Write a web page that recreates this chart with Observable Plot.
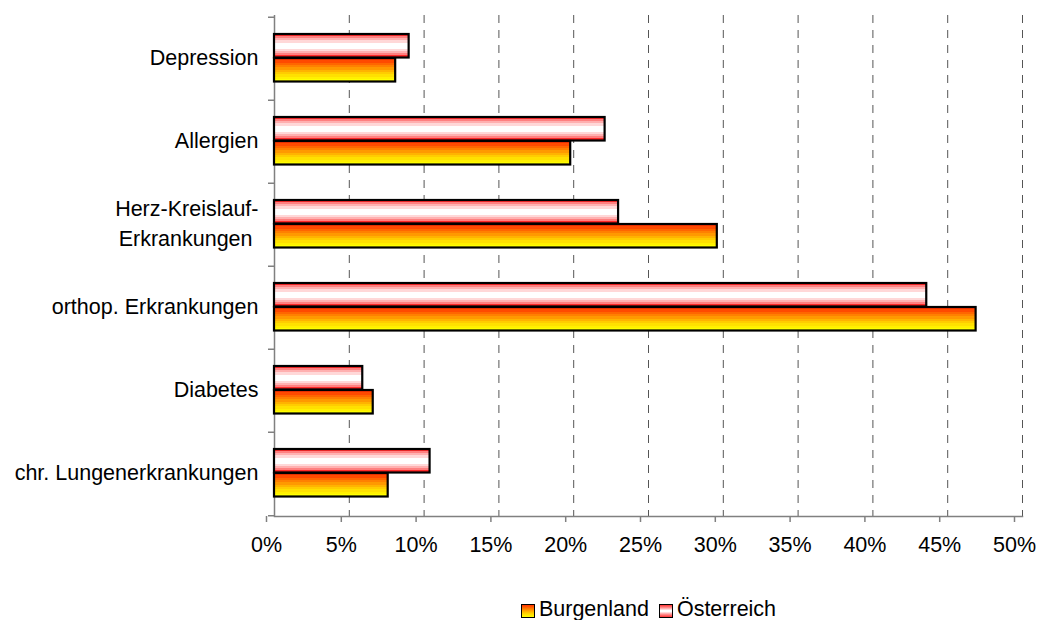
<!DOCTYPE html>
<html>
<head>
<meta charset="utf-8">
<script src="https://cdn.jsdelivr.net/npm/d3@7"></script>
<script src="https://cdn.jsdelivr.net/npm/@observablehq/plot@0.6"></script>
<style>
  body { margin: 0; background: #fff; font-family: "Liberation Sans", Arial, sans-serif; }
  #legend { display: flex; justify-content: center; align-items: center; padding-left: 260px; margin-top: 18px; font-size: 21.5px; color: #000; height: 22px; }
  .sw { width: 12px; height: 12px; border: 1px solid #000; margin-right: 4px; display: inline-block; margin-top: 4px; }
  .item { display: flex; align-items: center; margin: 0 5px; }
</style>
</head>
<body>
<div id="chart"></div>
<div id="legend"></div>
<script>
const categories = ["Depression", "Allergien", "Herz-Kreislauf-Erkrankungen", "orthop. Erkrankungen", "Diabetes", "chr. Lungenerkrankungen"];
const categoryLabels = ["Depression", "Allergien", "Herz-Kreislauf-\nErkrankungen\u00a0", "orthop. Erkrankungen", "Diabetes", "chr. Lungenerkrankungen"];
const seriesNames = ["Burgenland", "Österreich"];
const burgenland = [8.1, 19.8, 29.6, 46.9, 6.6, 7.6];
const oesterreich = [9.0, 22.1, 23.0, 43.6, 5.9, 10.4];
const xTicks = [0, 5, 10, 15, 20, 25, 30, 35, 40, 45, 50];

const dataB = categories.map((c, i) => ({category: c, value: burgenland[i]}));
const dataO = categories.map((c, i) => ({category: c, value: oesterreich[i]}));
const labelOf = new Map(categories.map((c, i) => [c, categoryLabels[i]]));

const height = 580, marginTop = 15, marginBottom = 64;
const bw = (height - marginTop - marginBottom) / categories.length;
const fs = 21.5;

const defs = () => {
  const g = d3.create("svg:defs");
  const gb = g.append("linearGradient").attr("id", "gradB").attr("x1", 0).attr("y1", 0).attr("x2", 0).attr("y2", 1);
  const bStops = ["#ff3300", "#ff4a00", "#ff6600", "#ff8000", "#ff9900", "#ffb300", "#ffcc00", "#ffe000", "#fff000", "#ffff00"];
  bStops.forEach((c, i) => {
    gb.append("stop").attr("offset", i / bStops.length).attr("stop-color", c);
    gb.append("stop").attr("offset", (i + 1) / bStops.length).attr("stop-color", c);
  });
  const go = g.append("linearGradient").attr("id", "gradO").attr("x1", 0).attr("y1", 0).attr("x2", 0).attr("y2", 1);
  const oStops = ["#ff2a2a", "#ff8080", "#ffb0b0", "#ffd8d8", "#ffffff", "#ffffff", "#ffffff", "#ffd8d8", "#ffb0b0", "#ff8080", "#ff2a2a"];
  oStops.forEach((c, i) => {
    go.append("stop").attr("offset", i / oStops.length).attr("stop-color", c);
    go.append("stop").attr("offset", (i + 1) / oStops.length).attr("stop-color", c);
  });
  return g.node();
};

const chart = Plot.plot({
  width: 1037,
  height,
  marginTop,
  marginBottom,
  marginLeft: 274,
  marginRight: 15,
  style: {fontFamily: "'Liberation Sans', Arial, sans-serif", fontSize: fs + "px", color: "#000", background: "#fff"},
  x: {domain: [0, 50], label: null},
  y: {domain: categories, padding: 0, label: null},
  marks: [
    defs,
    Plot.gridX(xTicks.filter(d => d > 0), {stroke: "#555", strokeOpacity: 1, strokeDasharray: "8,7", strokeWidth: 1}),
    Plot.ruleX([0], {stroke: "#808080", strokeWidth: 1.5}),
    Plot.frame({anchor: "bottom", stroke: "#808080", strokeWidth: 1.5}),
    Plot.axisX(xTicks, {tickSize: 6, tickPadding: 14, dx: -8, stroke: "#808080", strokeWidth: 1.5, tickFormat: d => d + "%", fontSize: fs, fill: "#000", label: null}),
    Plot.axisY({tickSize: 0, tickPadding: 16, dy: -4, tickFormat: d => labelOf.get(d), lineHeight: 1.4, fontSize: fs, fill: "#000", label: null}),
    Plot.axisY({tickSize: 6, tickFormat: () => "", dy: -bw / 2, stroke: "#808080", strokeWidth: 1.5, label: null}),
    Plot.axisY([categories[categories.length - 1]], {tickSize: 6, tickFormat: () => "", dy: bw / 2, stroke: "#808080", strokeWidth: 1.5, label: null}),
    Plot.barX(dataO, {y: "category", x: "value", fill: "url(#gradO)", stroke: "#000", strokeWidth: 2.2, insetTop: 17, insetBottom: bw - 17 - 24}),
    Plot.barX(dataB, {y: "category", x: "value", fill: "url(#gradB)", stroke: "#000", strokeWidth: 2.2, insetTop: 41, insetBottom: bw - 41 - 24})
  ]
});
document.getElementById("chart").appendChild(chart);

const swatchBg = {
  "Burgenland": "linear-gradient(to bottom, #ff3300, #ff8000, #ffcc00, #ffff00)",
  "Österreich": "linear-gradient(to bottom, #ff3333 0%, #ff9999 25%, #ffffff 45%, #ffffff 55%, #ff9999 75%, #ff3333 100%)"
};
const legend = d3.select("#legend");
seriesNames.forEach(name => {
  const it = legend.append("span").attr("class", "item");
  it.append("span").attr("class", "sw").style("background", swatchBg[name]);
  it.append("span").text(name);
});
</script>
</body>
</html>
